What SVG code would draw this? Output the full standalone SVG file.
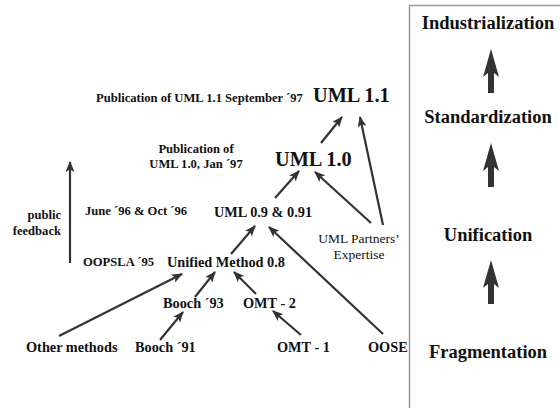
<svg xmlns="http://www.w3.org/2000/svg" width="560" height="408" viewBox="0 0 560 408">
<defs>
<marker id="ah" viewBox="0 0 11 9" refX="10" refY="4.5" markerWidth="11" markerHeight="9" markerUnits="userSpaceOnUse" orient="auto">
<path d="M0,0 L11,4.5 L0,9 L2.5,4.5 Z" fill="#333"/>
</marker>
<path id="big" d="M0,-22 L8,6 L3,2 L3,22 L-3,22 L-3,2 L-8,6 Z" fill="#333"/>
</defs>
<style>
.b{font-weight:bold}
.s11{font-size:12.6px}
.s13{font-size:14.3px}
.sr{font-size:13.5px}
.s17{font-size:18.5px}
.big{font-size:20.3px}
.c{text-anchor:middle}
.r{text-anchor:end}
.ln{stroke:#333;stroke-width:2.2;fill:none;marker-end:url(#ah)}
</style>
<rect width="560" height="408" fill="#fff"/>
<g id="panel">
<path d="M409.5,408 V5.5 H560" fill="none" stroke="#999" stroke-width="1.5"/>
</g>
<g font-family="'Liberation Serif', 'Times New Roman', 'DejaVu Serif', serif" fill="#111">
<g id="industrialization"><text class="b s17 c" x="488" y="29">Industrialization</text></g>
<g id="standardization"><text class="b s17 c" x="488" y="123">Standardization</text></g>
<g id="unification"><text class="b s17 c" x="488" y="241">Unification</text></g>
<g id="fragmentation"><text class="b s17 c" x="488" y="358">Fragmentation</text></g>
<g id="pub11"><text class="b s11" x="96" y="102">Publication of UML 1.1 September ´97</text></g>
<g id="uml11"><text class="b big" x="313" y="102">UML 1.1</text></g>
<g id="pub10"><text class="b s11 c" x="196" y="153">Publication of</text><text class="b s11 c" x="196" y="168">UML 1.0, Jan ´97</text></g>
<g id="uml10"><text class="b big" x="275" y="166">UML 1.0</text></g>
<g id="june96"><text class="b s11" x="85" y="215">June ´96 &amp; Oct ´96</text></g>
<g id="uml09"><text class="b s13" x="214" y="217">UML 0.9 &amp; 0.91</text></g>
<g id="partners"><text class="sr c" x="359" y="243">UML Partners’</text><text class="sr c" x="359" y="259">Expertise</text></g>
<g id="feedback"><text class="b s11 r" x="61" y="219">public</text><text class="b s11 r" x="61" y="235">feedback</text></g>
<g id="oopsla"><text class="b s11" x="83" y="266">OOPSLA ´95</text></g>
<g id="um08"><text class="b s13" x="167" y="267">Unified Method 0.8</text></g>
<g id="booch93"><text class="b s13" x="163" y="308">Booch ´93</text></g>
<g id="omt2"><text class="b s13" x="243" y="308">OMT - 2</text></g>
<g id="other"><text class="b s13" x="26" y="352">Other methods</text></g>
<g id="booch91"><text class="b s13" x="135" y="352">Booch ´91</text></g>
<g id="omt1"><text class="b s13" x="277" y="352">OMT - 1</text></g>
<g id="oose"><text class="b s13" x="368" y="352">OOSE</text></g>
</g>
<g id="phase-arrows">
<use href="#big" x="491" y="71"/>
<use href="#big" x="491" y="165"/>
<use href="#big" x="491" y="282"/>
</g>
<g id="connectors">
<line class="ln" x1="70" y1="263" x2="70" y2="162"/>
<line class="ln" x1="59" y1="336" x2="182" y2="274"/>
<line class="ln" x1="160" y1="340" x2="183" y2="312"/>
<line class="ln" x1="195" y1="297" x2="215" y2="272"/>
<line class="ln" x1="256" y1="294" x2="234" y2="272"/>
<line class="ln" x1="301" y1="335" x2="273" y2="311"/>
<line class="ln" x1="231" y1="254" x2="255" y2="226"/>
<line class="ln" x1="383" y1="334" x2="269" y2="227"/>
<line class="ln" x1="275" y1="198" x2="299" y2="171"/>
<line class="ln" x1="371" y1="223" x2="315" y2="172"/>
<line class="ln" x1="383" y1="225" x2="360" y2="117"/>
<line class="ln" x1="321" y1="143" x2="342" y2="117"/>
</g>
</svg>
